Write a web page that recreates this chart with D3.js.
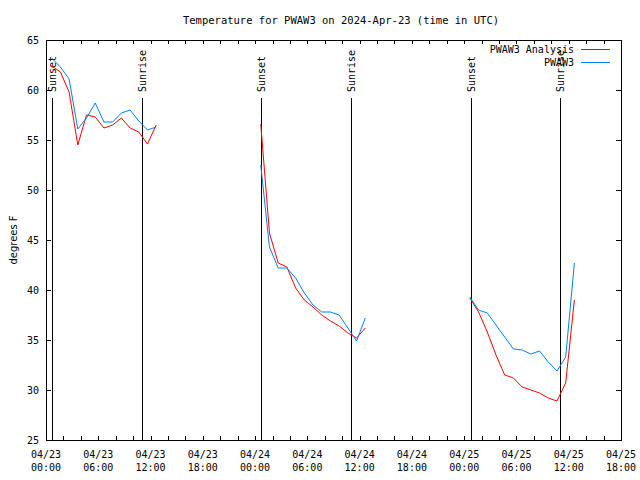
<!DOCTYPE html>
<html>
<head>
<meta charset="utf-8">
<script src="https://cdn.jsdelivr.net/npm/d3@7.9.0/dist/d3.min.js"></script>
<style>
  body { margin: 0; background: #fff; }
  svg { display: block; }
  text { font-family: "DejaVu Sans Mono", monospace; font-size: 10px; fill: #000; }
</style>
</head>
<body>
<svg id="chart" width="640" height="480"></svg>
<script>
// hourly readings, three mornings (UTC)
const times = [
  '2024-04-23T00:39Z', '2024-04-23T01:39Z', '2024-04-23T02:39Z', '2024-04-23T03:39Z', '2024-04-23T04:39Z',
  '2024-04-23T05:39Z', '2024-04-23T06:39Z', '2024-04-23T07:39Z', '2024-04-23T08:39Z', '2024-04-23T09:39Z',
  '2024-04-23T10:39Z', '2024-04-23T11:39Z', '2024-04-23T12:39Z',
  '2024-04-24T00:39Z', '2024-04-24T01:39Z', '2024-04-24T02:39Z', '2024-04-24T03:39Z', '2024-04-24T04:39Z',
  '2024-04-24T05:39Z', '2024-04-24T06:39Z', '2024-04-24T07:39Z', '2024-04-24T08:39Z', '2024-04-24T09:39Z',
  '2024-04-24T10:39Z', '2024-04-24T11:39Z', '2024-04-24T12:39Z',
  '2024-04-25T00:39Z', '2024-04-25T01:39Z', '2024-04-25T02:39Z', '2024-04-25T03:39Z', '2024-04-25T04:39Z',
  '2024-04-25T05:39Z', '2024-04-25T06:39Z', '2024-04-25T07:39Z', '2024-04-25T08:39Z', '2024-04-25T09:39Z',
  '2024-04-25T10:39Z', '2024-04-25T11:39Z', '2024-04-25T12:39Z'
];
// which morning each reading belongs to (lines break between them)
const segment = [0,0,0,0,0,0,0,0,0,0,0,0,0, 1,1,1,1,1,1,1,1,1,1,1,1,1, 2,2,2,2,2,2,2,2,2,2,2,2,2];

const analysis = [
  62.4, 61.8, 59.8, 54.5, 57.5, 57.3, 56.2, 56.5, 57.2, 56.2, 55.8, 54.6, 56.5,
  56.6, 45.7, 42.7, 42.3, 40.2, 39.0, 38.3, 37.5, 36.9, 36.4, 35.7, 35.2, 36.2,
  39.2, 37.8, 35.8, 33.5, 31.5, 31.2, 30.3, 30.0, 29.7, 29.2, 28.9, 30.7, 39.0
];
const observed = [
  63.2, 62.3, 61.1, 56.1, 57.2, 58.7, 56.8, 56.8, 57.7, 58.0, 56.9, 56.0, 56.3,
  52.5, 44.3, 42.2, 42.2, 41.2, 39.7, 38.5, 37.8, 37.8, 37.5, 36.2, 34.9, 37.2,
  39.3, 38.0, 37.7, 36.5, 35.3, 34.1, 34.0, 33.6, 33.9, 32.8, 31.9, 33.3, 42.7
];

const eventTimes = [
  '2024-04-23T00:41Z', '2024-04-23T11:01Z',
  '2024-04-24T00:43Z', '2024-04-24T11:02Z',
  '2024-04-25T00:45Z', '2024-04-25T10:57Z'
];
const eventLabels = ['Sunset', 'Sunrise', 'Sunset', 'Sunrise', 'Sunset', 'Sunrise'];

const seriesNames = ['PWAW3 Analysis', 'PWAW3'];
const seriesColors = ['#ff0000', '#0080ff'];
const yTicks = [25, 30, 35, 40, 45, 50, 55, 60, 65];

const margin = { top: 40, right: 19, bottom: 40, left: 46 };
const width = 640, height = 480;
const svg = d3.select('#chart');

const x = d3.scaleUtc()
  .domain([new Date('2024-04-23T00:00Z'), new Date('2024-04-25T18:00Z')])
  .range([margin.left, width - margin.right]);
const y = d3.scaleLinear()
  .domain([25, 65])
  .range([height - margin.bottom, margin.top]);

const x0 = margin.left, x1 = width - margin.right;
const y0 = height - margin.bottom, y1 = margin.top;

// title
svg.append('text')
  .attr('x', 341).attr('y', 24)
  .attr('text-anchor', 'middle')
  .style('font-size', '10.5px')
  .text('Temperature for PWAW3 on 2024-Apr-23 (time in UTC)');

// y label
svg.append('text')
  .attr('transform', `translate(13,${(y0 + y1) / 2}) rotate(-90)`)
  .attr('text-anchor', 'middle')
  .attr('dy', '0.35em')
  .style('font-family', '"DejaVu Sans", sans-serif')
  .style('font-size', '10px')
  .text('degrees F');

// x ticks every 2 hours, labels every 6
const minor = x.ticks(d3.utcHour.every(2));
const major = x.ticks(d3.utcHour.every(6));
const ticks = svg.append('g').attr('stroke', '#000').attr('shape-rendering', 'crispEdges');
minor.forEach(t => {
  const px = Math.round(x(t)) + 0.5;
  ticks.append('line').attr('x1', px).attr('x2', px).attr('y1', y0).attr('y2', y0 - 4);
  ticks.append('line').attr('x1', px).attr('x2', px).attr('y1', y1).attr('y2', y1 + 4);
});
yTicks.forEach(v => {
  const py = Math.round(y(v)) + 0.5;
  ticks.append('line').attr('x1', x0).attr('x2', x0 + 5).attr('y1', py).attr('y2', py);
  ticks.append('line').attr('x1', x1).attr('x2', x1 - 5).attr('y1', py).attr('y2', py);
});

const fmtDay = d3.utcFormat('%m/%d'), fmtTime = d3.utcFormat('%H:%M');
major.forEach(t => {
  const g = svg.append('text').attr('text-anchor', 'middle');
  g.append('tspan').attr('x', x(t)).attr('y', 458).text(fmtDay(t));
  g.append('tspan').attr('x', x(t)).attr('y', 471).text(fmtTime(t));
});
yTicks.forEach(v => {
  svg.append('text')
    .attr('x', 39).attr('y', y(v))
    .attr('dy', '0.35em')
    .attr('text-anchor', 'end')
    .text(v);
});

// sunset / sunrise markers
eventTimes.forEach((t, i) => {
  const px = Math.round(x(new Date(t))) + 0.5;
  svg.append('line')
    .attr('x1', px).attr('x2', px)
    .attr('y1', 98).attr('y2', y0)
    .attr('stroke', '#000')
    .attr('shape-rendering', 'crispEdges');
  svg.append('text')
    .attr('transform', `translate(${px},92) rotate(-90)`)
    .attr('dy', '0.35em')
    .text(eventLabels[i]);
});

// series
const rows = times.map((t, i) => ({ t: new Date(t), seg: segment[i], vals: [analysis[i], observed[i]] }));
[0, 1].forEach(k => {
  d3.groups(rows, d => d.seg).forEach(([, pts]) => {
    svg.append('path')
      .datum(pts)
      .attr('fill', 'none')
      .attr('stroke', seriesColors[k])
      .attr('stroke-width', 1)
      .attr('d', d3.line().x(d => x(d.t)).y(d => y(d.vals[k])));
  });
});

// border
svg.append('rect')
  .attr('x', x0 + 0.5).attr('y', y1 + 0.5)
  .attr('width', x1 - x0).attr('height', y0 - y1)
  .attr('fill', 'none').attr('stroke', '#000')
  .attr('shape-rendering', 'crispEdges');

// legend
seriesNames.forEach((name, i) => {
  const ly = 49 + i * 13;
  svg.append('text')
    .attr('x', 574).attr('y', ly)
    .attr('dy', '0.35em')
    .attr('text-anchor', 'end')
    .text(name);
  svg.append('line')
    .attr('x1', 581).attr('x2', 610)
    .attr('y1', ly + 0.5).attr('y2', ly + 0.5)
    .attr('stroke', seriesColors[i])
    .attr('shape-rendering', 'crispEdges');
});
</script>
</body>
</html>
